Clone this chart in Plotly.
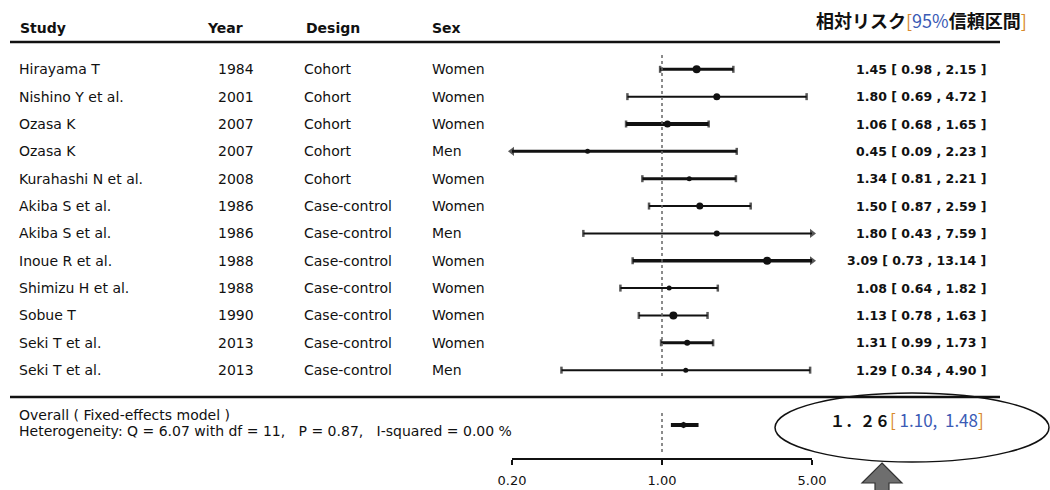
import math
import plotly.graph_objects as go

# ---------------- data ----------------
studies = ["Hirayama T", "Nishino Y et al.", "Ozasa K", "Ozasa K", "Kurahashi N et al.",
           "Akiba S et al.", "Akiba S et al.", "Inoue R et al.", "Shimizu H et al.",
           "Sobue T", "Seki T et al.", "Seki T et al."]
years = ["1984", "2001", "2007", "2007", "2008", "1986", "1986", "1988", "1988", "1990", "2013", "2013"]
designs = ["Cohort", "Cohort", "Cohort", "Cohort", "Cohort", "Case-control", "Case-control",
           "Case-control", "Case-control", "Case-control", "Case-control", "Case-control"]
sexes = ["Women", "Women", "Women", "Men", "Women", "Women", "Men", "Women", "Women",
         "Women", "Women", "Men"]
rr = [1.45, 1.80, 1.06, 0.45, 1.34, 1.50, 1.80, 3.09, 1.08, 1.13, 1.31, 1.29]
lower = [0.98, 0.69, 0.68, 0.09, 0.81, 0.87, 0.43, 0.73, 0.64, 0.78, 0.99, 0.34]
upper = [2.15, 4.72, 1.65, 2.23, 2.21, 2.59, 7.59, 13.14, 1.82, 1.63, 1.73, 4.90]

overall_rr = 1.26
overall_lo = 1.10
overall_hi = 1.48

tick_vals = [0.2, 1.0, 5.0]
tick_text = ["0.20", "1.00", "5.00"]

header_cols = ["Study", "Year", "Design", "Sex"]
overall_label = "Overall ( Fixed-effects model )"
heterogeneity_label = "Heterogeneity: Q = 6.07 with df = 11,   P = 0.87,   I-squared = 0.00 %"

# styles (line weight per study)
line_w = [3, 2, 4, 3, 3, 2, 2, 3.5, 2, 2, 3, 2]
dot_size = [8, 7, 7, 5, 5, 7, 6, 8, 5, 8, 6, 5]

# ---------------- layout helpers ----------------
W, H = 1050, 490
MB = 32
PLOT_H = H - MB
ROW0_PX, ROW_STEP = 69.3, 27.35


def px_row(p):
    return (p - ROW0_PX) / ROW_STEP


def xp(p):
    return p / W


def yp(p):
    return 1 - p / PLOT_H


XMIN, XMAX = tick_vals[0], tick_vals[-1]
FONT = "DejaVu Sans"
INK = "#111"
fig = go.Figure()

n = len(studies)
for i in range(n):
    lo = max(lower[i], XMIN)
    hi = min(upper[i], XMAX)
    fig.add_trace(go.Scatter(x=[lo, hi], y=[i, i], mode="lines",
                             line=dict(color=INK, width=line_w[i]),
                             hoverinfo="skip", showlegend=False))
    l_out, r_out = lower[i] < XMIN, upper[i] > XMAX
    fig.add_trace(go.Scatter(
        x=[lo, hi], y=[i, i], mode="markers",
        marker=dict(symbol=["triangle-left" if l_out else "line-ns",
                            "triangle-right" if r_out else "line-ns"],
                    size=[8 if l_out else 5, 8 if r_out else 5], color=INK,
                    line=dict(color=INK, width=[0 if l_out else 2.5, 0 if r_out else 2.5])),
        hoverinfo="skip", showlegend=False, cliponaxis=False))
    fig.add_trace(go.Scatter(x=[rr[i]], y=[i], mode="markers",
                             marker=dict(symbol="circle", size=dot_size[i], color=INK),
                             hoverinfo="skip", showlegend=False))

# overall
orow = px_row(425)
fig.add_trace(go.Scatter(x=[overall_lo, overall_hi], y=[orow, orow], mode="lines",
                         line=dict(color=INK, width=4), hoverinfo="skip", showlegend=False))
fig.add_trace(go.Scatter(x=[overall_rr], y=[orow], mode="markers",
                         marker=dict(symbol="diamond-wide", size=9, color=INK),
                         hoverinfo="skip", showlegend=False))

# reference dotted line at 1.0
fig.add_shape(type="line", xref="x", yref="y", x0=1, x1=1, y0=px_row(55), y1=px_row(376),
              line=dict(color="#666", width=1.5, dash="dot"))
fig.add_shape(type="line", xref="x", yref="y", x0=1, x1=1, y0=px_row(413), y1=px_row(452),
              line=dict(color="#666", width=1.5, dash="dot"))

# horizontal rules
fig.add_shape(type="line", xref="paper", yref="y", x0=xp(10), x1=xp(1000), y0=px_row(42), y1=px_row(42),
              line=dict(color=INK, width=2.5))
fig.add_shape(type="line", xref="paper", yref="y", x0=xp(10), x1=xp(1000), y0=px_row(397), y1=px_row(397),
              line=dict(color=INK, width=2.5))

ann = []
hdr_row = px_row(28)
col_x = [18, 205, 304, 430]
for name, x in zip(header_cols, col_x):
    ann.append(dict(text=f"<b>{name}</b>", x=xp(x), y=hdr_row, xanchor="left"))

for i in range(n):
    ann.append(dict(text=studies[i], x=xp(17), y=i, xanchor="left"))
    ann.append(dict(text=years[i], x=xp(256), y=i, xanchor="right"))
    ann.append(dict(text=designs[i], x=xp(302), y=i, xanchor="left"))
    ann.append(dict(text=sexes[i], x=xp(430), y=i, xanchor="left"))
    ann.append(dict(text=f"<b>{rr[i]:.2f} [ {lower[i]:.2f} , {upper[i]:.2f} ]</b>",
                    x=xp(988), y=i, xanchor="right", size=12.5))

ann.append(dict(text=overall_label, x=xp(17), y=px_row(415), xanchor="left"))
ann.append(dict(text=heterogeneity_label, x=xp(17), y=px_row(431), xanchor="left"))

annotations = []
for a in ann:
    annotations.append(dict(text=a["text"], x=a["x"], y=a["y"], xref="paper", yref="y",
                            xanchor=a["xanchor"], yanchor="middle", showarrow=False,
                            font=dict(family=FONT, size=a.get("size", 14), color=INK)))

ORANGE = "#d8892c"
BLUE = "#3b5bb5"
JP = "Noto Sans CJK JP"
annotations.append(dict(
    text=(f"<b>相対リスク</b><span style='color:{ORANGE}'>[</span>"
          f"<span style='color:{BLUE}'>95%</span><b>信頼区間</b>"
          f"<span style='color:{ORANGE}'>]</span>"),
    x=xp(1029), y=yp(20), xref="paper", yref="paper", xanchor="right", yanchor="middle",
    showarrow=False, font=dict(family=JP, size=18, color=INK)))

fullwidth = str.maketrans("0123456789.", "０１２３４５６７８９．")
overall_main = f"{overall_rr:.2f}".translate(fullwidth)
annotations.append(dict(
    text=(f"<b>{overall_main}</b>"
          f"<span style='color:{ORANGE};font-size:17px'>[</span>"
          f"<span style='color:{BLUE};font-size:17px'> {overall_lo:.2f},  {overall_hi:.2f}</span>"
          f"<span style='color:{ORANGE};font-size:17px'>]</span>"),
    x=xp(828), y=yp(419), xref="paper", yref="paper", xanchor="left", yanchor="middle",
    showarrow=False, font=dict(family=JP, size=15, color=INK)))

# ellipse highlight
fig.add_shape(type="circle", xref="paper", yref="paper", x0=xp(775), x1=xp(1049),
              y0=yp(462), y1=yp(393), line=dict(color=INK, width=1.5))

# gray upward arrow
ax = 882
path = (f"M {xp(ax)},{yp(463)} L {xp(ax + 20)},{yp(483)} L {xp(ax + 7)},{yp(483)} "
        f"L {xp(ax + 7)},{yp(492)} L {xp(ax - 7)},{yp(492)} L {xp(ax - 7)},{yp(483)} "
        f"L {xp(ax - 20)},{yp(483)} Z")
fig.add_shape(type="path", xref="paper", yref="paper", path=path,
              fillcolor="#6e6e6e", line=dict(color="#333", width=1.2))

fig.update_layout(
    width=W, height=H, margin=dict(l=0, r=0, t=0, b=MB, autoexpand=False),
    paper_bgcolor="white", plot_bgcolor="white",
    annotations=annotations, showlegend=False,
    xaxis=dict(type="log", domain=[512 / W, 812 / W],
               range=[math.log10(XMIN), math.log10(XMAX)],
               tickvals=tick_vals, ticktext=tick_text, showgrid=False, zeroline=False,
               showline=True, linecolor=INK, linewidth=2, ticks="outside",
               ticklen=5, tickwidth=2, tickcolor=INK, ticklabelstandoff=4,
               tickfont=dict(family=FONT, size=13, color=INK), fixedrange=True),
    yaxis=dict(range=[px_row(PLOT_H), px_row(0)], visible=False, fixedrange=True),
)

post = ("document.body.style.margin='0px';document.body.style.padding='0px';"
        "document.documentElement.style.overflow='hidden';document.body.style.overflow='hidden';")
fig.write_html("out.html", post_script=post, config={"responsive": False, "displayModeBar": False})
